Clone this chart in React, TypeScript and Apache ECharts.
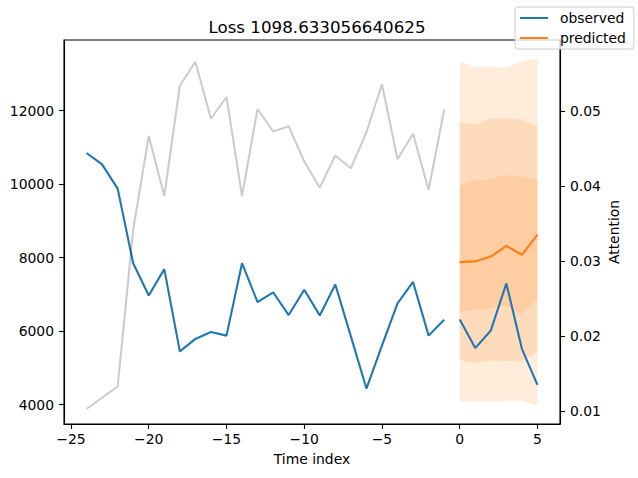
import React, { useEffect, useRef } from "react";
import * as echarts from "echarts";

const pastX = [-24, -23, -22, -21, -20, -19, -18, -17, -16, -15, -14, -13, -12, -11, -10, -9, -8, -7, -6, -5, -4, -3, -2, -1];
const observedPast = [10850, 10540, 9880, 7850, 6970, 7690, 5450, 5790, 5980, 5880, 7850, 6790, 7060, 6440, 7130, 6430, 7270, 5860, 4440, 5610, 6760, 7340, 5880, 6310];
const attention = [0.0103, 0.0118, 0.0133, 0.0342, 0.0467, 0.0387, 0.0534, 0.0566, 0.049, 0.0519, 0.0387, 0.0503, 0.0473, 0.048, 0.0433, 0.0398, 0.0441, 0.0424, 0.0472, 0.0536, 0.0436, 0.047, 0.0395, 0.0502];

const futureX = [0, 1, 2, 3, 4, 5];
const observedFuture = [6320, 5540, 6020, 7300, 5520, 4540];
const predicted = [7880, 7900, 8030, 8320, 8080, 8630];
const q02 = [4080, 4080, 4080, 4110, 4110, 3970];
const q10 = [5210, 5130, 5200, 5190, 5190, 5420];
const q25 = [6540, 6570, 6630, 6700, 6470, 6880];
const q75 = [9970, 10100, 10140, 10250, 10210, 10100];
const q90 = [11680, 11630, 11790, 11780, 11760, 11570];
const q98 = [13330, 13200, 13200, 13160, 13350, 13420];

const xTicks = [-25, -20, -15, -10, -5, 0, 5];
const leftTicks = [4000, 6000, 8000, 10000, 12000];
const rightTicks = [0.01, 0.02, 0.03, 0.04, 0.05];

const bandLower = [q02, q10, q25];
const bandUpper = [q98, q90, q75];

const FONT = "DejaVu Sans";
const BLUE = "#1f77b4";
const ORANGE = "#ff7f0e";

export default function App() {
  const ref = useRef<HTMLDivElement>(null);
  useEffect(() => {
    if (!ref.current) return;
    const chart = echarts.init(ref.current, undefined, { renderer: "svg" });
    const tickStyle = { color: "#000", width: 1.1 };
    const labelStyle = { fontSize: 13.9, color: "#000", fontFamily: FONT };
    const option: any = {
      animation: false,
      textStyle: { fontFamily: FONT },
      title: {
        text: "Loss 1098.633056640625",
        left: 312,
        top: 13,
        textAlign: "center",
        textStyle: { fontSize: 16.7, fontWeight: "normal", color: "#000", fontFamily: FONT },
      },
      legend: {
        orient: "vertical",
        left: 515,
        top: 7,
        padding: [4, 8, 4, 5],
        itemGap: 6,
        itemWidth: 35,
        itemHeight: 2,
        icon: "path://M0,0H28V2H0Z M35,0L35,2",
        backgroundColor: "rgba(255,255,255,0.8)",
        borderColor: "#cccccc",
        borderWidth: 1,
        borderRadius: 3,
        textStyle: { fontSize: 13.9, color: "#000", fontFamily: FONT, padding: [0, 0, 0, 0] },
        data: ["observed", "predicted"],
      },
      grid: { left: 64, right: 78, top: 40, bottom: 54, show: true, borderColor: "#000", borderWidth: 1.1 },
      xAxis: {
        type: "value",
        min: -25.45,
        max: 6.45,
        name: "Time index",
        nameLocation: "middle",
        nameGap: 28,
        nameTextStyle: { fontSize: 13.9, color: "#000", fontFamily: FONT },
        axisLine: { show: true, onZero: false, lineStyle: tickStyle },
        axisTick: { show: true, customValues: xTicks, length: 5, lineStyle: tickStyle },
        axisLabel: {
          customValues: xTicks,
          margin: 8,
          ...labelStyle,
          formatter: (v: number) => (v < 0 ? "\u2212" + Math.abs(v) : String(v)),
        },
        splitLine: { show: false },
      },
      yAxis: [
        {
          type: "value",
          min: 3475,
          max: 13925,
          position: "left",
          axisLine: { show: true, onZero: false, lineStyle: tickStyle },
          axisTick: { show: true, customValues: leftTicks, length: 5, lineStyle: tickStyle },
          axisLabel: { customValues: leftTicks, margin: 10, ...labelStyle, formatter: (v: number) => String(v) },
          splitLine: { show: false },
        },
        {
          type: "value",
          min: 0.0083,
          max: 0.0595,
          position: "right",
          name: "Attention",
          nameLocation: "middle",
          nameRotate: 90,
          nameGap: 47,
          nameMoveOverlap: false,
          nameTextStyle: { fontSize: 13.9, color: "#000", fontFamily: FONT },
          axisLine: { show: true, onZero: false, lineStyle: tickStyle },
          axisTick: { show: true, customValues: rightTicks, length: 5, lineStyle: tickStyle },
          axisLabel: { customValues: rightTicks, margin: 10, ...labelStyle, formatter: (v: number) => v.toFixed(2) },
          splitLine: { show: false },
        },
      ],
      series: [
        {
          type: "custom",
          name: "bands",
          xAxisIndex: 0,
          yAxisIndex: 0,
          z: 1,
          silent: true,
          data: bandLower.map((b) => [futureX[0], b[0]]),
          encode: { x: 0, y: 1 },
          renderItem: (params: any, api: any) => {
            const i = params.dataIndex;
            const up = futureX.map((x, j) => api.coord([x, bandUpper[i][j]]));
            const lo = futureX.map((x, j) => api.coord([x, bandLower[i][j]])).reverse();
            return {
              type: "polygon",
              shape: { points: up.concat(lo) },
              style: { fill: ORANGE, opacity: 0.15 },
            };
          },
        },
        {
          type: "line",
          name: "observed",
          data: pastX.map((x, i) => [x, observedPast[i]]),
          symbol: "none",
          color: BLUE,
          lineStyle: { color: BLUE, width: 2.1 },
          z: 3,
        },
        {
          type: "line",
          name: "observed",
          data: futureX.map((x, i) => [x, observedFuture[i]]),
          symbol: "none",
          color: BLUE,
          lineStyle: { color: BLUE, width: 2.1 },
          z: 3,
        },
        {
          type: "line",
          name: "predicted",
          data: futureX.map((x, i) => [x, predicted[i]]),
          symbol: "none",
          color: ORANGE,
          lineStyle: { color: ORANGE, width: 2.1 },
          z: 3,
        },
        {
          type: "line",
          name: "attention",
          yAxisIndex: 1,
          data: pastX.map((x, i) => [x, attention[i]]),
          symbol: "none",
          color: "rgba(0,0,0,0.2)",
          lineStyle: { color: "#000", opacity: 0.2, width: 2.1 },
          z: 4,
        },
      ],
    };
    chart.setOption(option);
    return () => chart.dispose();
  }, []);
  return (
    <div
      ref={ref}
      style={{ position: "fixed", left: 0, top: 0, width: 638, height: 478, background: "#fff" }}
    />
  );
}
